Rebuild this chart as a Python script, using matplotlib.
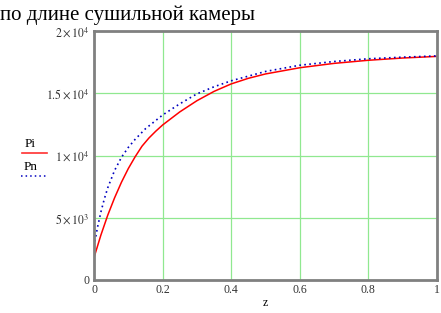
import matplotlib.pyplot as plt
from matplotlib.lines import Line2D

# Данные кривых
z_pi = [0, 0.02, 0.04, 0.06, 0.08, 0.10, 0.12, 0.14, 0.16, 0.18, 0.2, 0.25, 0.3,
        0.35, 0.4, 0.45, 0.5, 0.6, 0.7, 0.8, 0.9, 1.0]
pi_vals = [1800, 3600, 5200, 6600, 7850, 8950, 9900, 10750, 11400, 11950, 12450,
           13500, 14400, 15150, 15750, 16200, 16550, 17050, 17400, 17650, 17830, 17960]

z_pn = [0, 0.01, 0.02, 0.03, 0.04, 0.06, 0.08, 0.10, 0.12, 0.15, 0.2, 0.25, 0.3,
        0.35, 0.4, 0.5, 0.6, 0.7, 0.8, 0.9, 1.0]
pn_vals = [2700, 4200, 5450, 6500, 7400, 8800, 9850, 10650, 11300, 12150, 13250,
           14150, 14950, 15520, 16000, 16750, 17250, 17550, 17770, 17900, 18000]

x_ticks = [0, 0.2, 0.4, 0.6, 0.8, 1]
x_labels = ["0", "0.2", "0.4", "0.6", "0.8", "1"]
y_ticks = [0, 5000, 10000, 15000, 20000]
y_labels = ["0", r"$5\times10^{3}$", r"$1\times10^{4}$", r"$1.5\times10^{4}$", r"$2\times10^{4}$"]

plt.rcParams['font.family'] = 'Liberation Serif'
plt.rcParams['mathtext.fontset'] = 'stix'

fig = plt.figure(figsize=(4.41, 3.13), dpi=100)
ax = fig.add_axes([94 / 441, 1 - 280 / 313, 343 / 441, 249 / 313])

ax.plot(z_pi, pi_vals, color='#ff0000', lw=1.1)
ax.plot(z_pn, pn_vals, color='#0000c0', lw=1.2, linestyle=(0, (1, 2)))

ax.set_xlim(0, 1)
ax.set_ylim(0, 20000)
ax.set_xticks(x_ticks)
ax.set_xticklabels(x_labels, fontsize=8.5)
ax.set_yticks(y_ticks)
ax.set_yticklabels(y_labels, fontsize=8.5)
ax.tick_params(length=0, pad=3, colors='#333333')
ax.grid(True, color='#90e890', lw=0.9)
ax.set_axisbelow(True)
for s in ax.spines.values():
    s.set_color('#808080')
    s.set_linewidth(2)

# Подпись оси x
fig.text(265 / 441, 1 - 306 / 313, 'z', fontsize=8.5, ha='center', va='baseline')

# Заголовок (обрезан сверху слева)
fig.text(0.0, 1 - 20 / 313, 'по длине сушильной камеры', fontsize=15, ha='left',
         va='baseline')

# Легенда слева от графика
fig.text(25 / 441, 1 - 147 / 313, 'Pi', fontsize=9.5, va='baseline')
fig.add_artist(Line2D([22 / 441, 47 / 441], [1 - 152.5 / 313] * 2, color='#ff3030', lw=1.2))
fig.text(24 / 441, 1 - 170 / 313, 'Pn', fontsize=9.5, va='baseline')
fig.add_artist(Line2D([21 / 441, 47 / 441], [1 - 175.5 / 313] * 2, color='#0000c0', lw=1.1,
                      linestyle=(0, (1, 2))))

plt.savefig('out.png', dpi=100)
